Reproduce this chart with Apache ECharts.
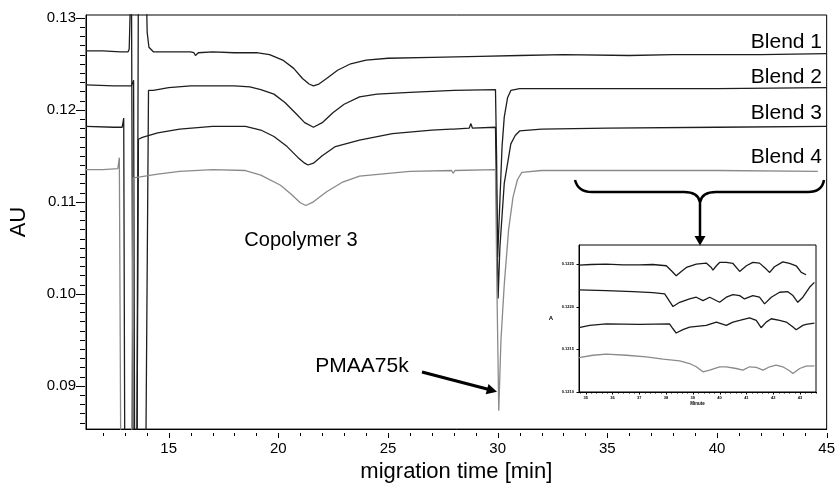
<!DOCTYPE html>
<html>
<head>
<meta charset="utf-8">
<script src="https://cdn.jsdelivr.net/npm/echarts@6/dist/echarts.min.js"></script>
<style>
html,body{margin:0;padding:0;background:#fff;}
#chart{width:838px;height:488px;}
</style>
</head>
<body>
<div id="chart"></div>
<script>
// ---- main chart data: [migration time (min), AU] ----
const blend1 = [
  [11.23,0.1264],[12.0,0.1264],[12.8,0.1263],[13.15,0.1263],[13.2,0.1266],[13.3,0.136],[13.38,0.080],[13.55,0.080],[13.62,0.136],[13.95,0.136],[14.02,0.1284],[14.1,0.1268],[14.3,0.1263],[15.0,0.1263],[16.0,0.1263],[16.15,0.1262],[16.22,0.1259],[16.35,0.1262],[17.0,0.1263],[18.0,0.1262],[19.0,0.1262],[19.6,0.1260],[20.2,0.1254],[20.7,0.1245],[21.1,0.1234],[21.4,0.1228],[21.6,0.1226],[21.85,0.1228],[22.2,0.1234],[22.7,0.1243],[23.3,0.1250],[24.0,0.1254],[25.0,0.1256],[27.0,0.1257],[29.2,0.1258],[31.0,0.1259],[33.0,0.1260],[36.0,0.1259],[38.0,0.1260],[40.0,0.1260],[42.0,0.1260],[45.0,0.1261]
];
const blend2 = [
  [11.23,0.1227],[12.5,0.1226],[13.3,0.1226],[13.4,0.1232],[13.45,0.080],[13.95,0.080],[14.08,0.1221],[14.3,0.1221],[15.0,0.1224],[16.0,0.1226],[17.0,0.1226],[18.0,0.1226],[18.7,0.1225],[19.2,0.1222],[19.8,0.1217],[20.3,0.1208],[20.8,0.1196],[21.2,0.1186],[21.6,0.1181],[22.0,0.1186],[22.5,0.1197],[23.0,0.1206],[23.7,0.1214],[24.5,0.1217],[26.0,0.1219],[28.0,0.1221],[29.9,0.1222],[29.95,0.1150],[30.0,0.1040],[30.1,0.1100],[30.2,0.1160],[30.3,0.1192],[30.45,0.1213],[30.6,0.1221],[31.0,0.1223],[35.0,0.1223],[40.0,0.1223],[45.0,0.1224]
];
const blend3 = [
  [11.23,0.1182],[12.5,0.1181],[12.88,0.1181],[12.95,0.1191],[13.0,0.080],[13.55,0.080],[13.62,0.1168],[13.8,0.1170],[14.5,0.1175],[15.5,0.1179],[17.0,0.1182],[18.5,0.1182],[19.2,0.1178],[19.8,0.1171],[20.4,0.1160],[20.9,0.1148],[21.2,0.1142],[21.35,0.1140],[21.6,0.1142],[22.0,0.1150],[22.6,0.1160],[23.7,0.1167],[25.2,0.1174],[27.0,0.1178],[27.85,0.1179],[27.92,0.1177],[28.0,0.1179],[28.7,0.1180],[28.78,0.1185],[28.85,0.1180],[29.9,0.1181],[29.95,0.1100],[30.02,0.0995],[30.1,0.1050],[30.3,0.1120],[30.6,0.1163],[30.8,0.1172],[31.0,0.1177],[32.0,0.1179],[35.0,0.1180],[40.0,0.1181],[45.0,0.1182]
];
const blend4 = [
  [11.23,0.1135],[12.0,0.1135],[12.68,0.1136],[12.75,0.1148],[12.82,0.080],[13.3,0.080],[13.38,0.1126],[13.7,0.1127],[14.5,0.1130],[15.5,0.1133],[17.0,0.1135],[18.5,0.1134],[19.2,0.1129],[20.1,0.1118],[20.6,0.1108],[21.0,0.1099],[21.25,0.1096],[21.6,0.1100],[22.2,0.1111],[22.9,0.1121],[23.7,0.1128],[26.0,0.1133],[27.9,0.1134],[27.97,0.1131],[28.05,0.1134],[29.9,0.1135],[29.97,0.1000],[30.05,0.0873],[30.15,0.0950],[30.3,0.1010],[30.5,0.1070],[30.7,0.1105],[30.9,0.1124],[31.1,0.1132],[32.0,0.1134],[35.0,0.1134],[40.0,0.1134],[44.6,0.1133]
];
// ---- inset data: [minute, A] ----
const inset1 = [
  [34.75,0.122485],[35.2,0.122492],[35.77,0.122496],[36.4,0.122488],[37.01,0.122488],[37.5,0.122492],[38.01,0.122477],[38.20,0.122419],[38.38,0.122360],[38.57,0.122411],[38.76,0.122457],[39.13,0.122496],[39.50,0.122508],[39.69,0.122457],[39.75,0.122426],[39.88,0.122477],[40.0,0.122516],[40.25,0.122516],[40.50,0.122504],[40.75,0.122411],[41.0,0.122477],[41.24,0.122516],[41.49,0.122508],[41.74,0.122438],[41.87,0.122399],[42.05,0.122465],[42.36,0.122523],[42.61,0.122504],[42.86,0.122477],[43.05,0.122399],[43.23,0.122372]
];
const inset2 = [
  [34.75,0.122194],[35.77,0.122186],[36.77,0.122174],[37.51,0.122163],[37.95,0.122147],[38.26,0.122000],[38.51,0.122050],[38.88,0.122089],[39.13,0.122109],[39.38,0.122070],[39.63,0.122109],[40.0,0.122050],[40.25,0.122109],[40.50,0.122140],[40.75,0.122128],[40.93,0.122089],[41.24,0.122128],[41.49,0.122109],[41.68,0.122031],[41.93,0.122109],[42.24,0.122167],[42.55,0.122174],[42.74,0.122128],[42.92,0.122050],[43.11,0.122109],[43.36,0.122225],[43.54,0.122283]
];
const inset3 = [
  [34.75,0.121752],[35.15,0.121779],[35.77,0.121798],[37.01,0.121791],[38.13,0.121798],[38.26,0.121740],[38.38,0.121690],[38.63,0.121729],[38.88,0.121760],[39.50,0.121779],[39.88,0.121818],[40.25,0.121779],[40.50,0.121818],[40.75,0.121837],[41.12,0.121868],[41.37,0.121837],[41.55,0.121752],[41.74,0.121818],[41.93,0.121857],[42.24,0.121837],[42.49,0.121818],[42.74,0.121760],[42.86,0.121729],[43.11,0.121779],[43.23,0.121791],[43.54,0.121806]
];
const inset4 = [
  [34.75,0.121403],[35.27,0.121430],[35.77,0.121442],[36.52,0.121430],[37.26,0.121411],[37.89,0.121384],[38.51,0.121364],[38.88,0.121333],[39.13,0.121295],[39.38,0.121236],[39.63,0.121256],[40.0,0.121295],[40.25,0.121295],[40.62,0.121275],[40.87,0.121256],[41.12,0.121295],[41.37,0.121287],[41.62,0.121256],[41.87,0.121295],[42.11,0.121314],[42.36,0.121295],[42.61,0.121248],[42.74,0.121217],[42.99,0.121275],[43.23,0.121302],[43.54,0.121306]
];
// ---- tick labels ----
const xTicks = [15, 20, 25, 30, 35, 40, 45];
const yTicks = [0.09, 0.10, 0.11, 0.12, 0.13];
const insetXTicks = [35, 36, 37, 38, 39, 40, 41, 42, 43];
const insetYTicks = [0.1210, 0.1215, 0.1220, 0.1225];

// axis ranges
const X_MIN = 11.23, X_MAX = 45, Y_MIN = 0.0853, Y_MAX = 0.1303;
const IX_MIN = 34.75, IX_MAX = 43.6, IY_MIN = 0.1210, IY_MAX = 0.12272;

const xMinor = [];
for (let v = 12; v <= 44; v++) if (v % 5 !== 0) xMinor.push(v);
const yMinor = [];
for (let k = 86; k <= 130; k++) if (k % 10 !== 0) yMinor.push(k / 1000);
const insetXMinor = [];
for (let k = 174; k <= 218; k++) if (k % 5 !== 0) insetXMinor.push(k / 5);

const FONT = 'Liberation Sans, Arial, sans-serif';
const GRIDS = [
  {left: 85, top: 15, width: 743, height: 418, xMin: X_MIN, xMax: X_MAX, yMin: Y_MIN, yMax: Y_MAX},
  {left: 579, top: 245, width: 237, height: 147, xMin: IX_MIN, xMax: IX_MAX, yMin: IY_MIN, yMax: IY_MAX}
];
const chart = echarts.init(document.getElementById('chart'), null, {renderer: 'canvas'});

function lineSeries(name, data, color, xi, yi, w, z) {
  return {
    name: name, type: 'line', data: data, xAxisIndex: xi, yAxisIndex: yi,
    showSymbol: false, symbol: 'none', silent: true, clip: true,
    lineStyle: {color: color, width: w}, z: z
  };
}

const option = {
  animation: false,
  backgroundColor: '#fff',
  grid: GRIDS.map((g, i) => ({left: g.left, top: g.top, width: g.width, height: g.height, show: true,
    borderColor: '#000', borderWidth: 1, backgroundColor: i ? '#fff' : 'transparent', z: i ? 4 : 0})),
  xAxis: [
    {type: 'value', gridIndex: 0, min: X_MIN, max: X_MAX, position: 'bottom',
     name: 'migration time [min]', nameLocation: 'middle', nameGap: 30,
     nameTextStyle: {fontFamily: FONT, fontSize: 22, color: '#000'},
     axisLine: {onZero: false, lineStyle: {color: '#000', width: 1}},
     axisTick: {show: false},
     axisLabel: {customValues: xTicks, fontFamily: FONT, fontSize: 15, color: '#000', margin: 12},
     splitLine: {show: false}},
    {type: 'value', gridIndex: 1, min: IX_MIN, max: IX_MAX, position: 'bottom',
     name: 'Minute', nameLocation: 'middle', nameGap: 9,
     nameTextStyle: {fontFamily: FONT, fontSize: 4.5, fontWeight: 'bold', color: '#000'},
     axisLine: {onZero: false, lineStyle: {color: '#000', width: 1}},
     axisTick: {show: false},
     axisLabel: {customValues: insetXTicks, fontFamily: FONT, fontSize: 4, fontWeight: 'bold', color: '#000', margin: 4},
     splitLine: {show: false}, z: 5}
  ],
  yAxis: [
    {type: 'value', gridIndex: 0, min: Y_MIN, max: Y_MAX, position: 'left',
     name: 'AU', nameLocation: 'middle', nameGap: 56, nameRotate: 90,
     nameTextStyle: {fontFamily: FONT, fontSize: 22, color: '#000'},
     axisLine: {show: true, onZero: false, lineStyle: {color: '#000', width: 1}},
     axisTick: {show: false},
     axisLabel: {customValues: yTicks, fontFamily: FONT, fontSize: 15, color: '#000', margin: 10,
                 formatter: v => v.toFixed(2)},
     splitLine: {show: false}},
    {type: 'value', gridIndex: 1, min: IY_MIN, max: IY_MAX, position: 'left',
     name: 'A', nameLocation: 'middle', nameGap: 26, nameRotate: 0,
     nameTextStyle: {fontFamily: FONT, fontSize: 6, fontWeight: 'bold', color: '#000'},
     axisLine: {show: true, onZero: false, lineStyle: {color: '#000', width: 1}},
     axisTick: {show: false},
     axisLabel: {customValues: insetYTicks, fontFamily: FONT, fontSize: 4, fontWeight: 'bold', color: '#000', margin: 5,
                 formatter: v => v.toFixed(4)},
     splitLine: {show: false}, z: 5}
  ],
  series: [
    lineSeries('Blend 1', blend1, '#1e1e1e', 0, 0, 1.3, 3),
    lineSeries('Blend 2', blend2, '#1e1e1e', 0, 0, 1.3, 3),
    lineSeries('Blend 3', blend3, '#1e1e1e', 0, 0, 1.3, 3),
    lineSeries('Blend 4', blend4, '#8a8a8a', 0, 0, 1.3, 3),
    lineSeries('Inset 1', inset1, '#1a1a1a', 1, 1, 1.3, 6),
    lineSeries('Inset 2', inset2, '#1a1a1a', 1, 1, 1.3, 6),
    lineSeries('Inset 3', inset3, '#1a1a1a', 1, 1, 1.3, 6),
    lineSeries('Inset 4', inset4, '#8a8a8a', 1, 1, 1.3, 6)
  ]
};
chart.setOption(option);

// annotations
const graphics = [
  {type: 'text', x: 822, y: 42, style: {text: 'Blend 1', font: '21px ' + FONT, fill: '#000', align: 'right', verticalAlign: 'middle'}, z: 10},
  {type: 'text', x: 822, y: 77, style: {text: 'Blend 2', font: '21px ' + FONT, fill: '#000', align: 'right', verticalAlign: 'middle'}, z: 10},
  {type: 'text', x: 822, y: 113, style: {text: 'Blend 3', font: '21px ' + FONT, fill: '#000', align: 'right', verticalAlign: 'middle'}, z: 10},
  {type: 'text', x: 822, y: 157, style: {text: 'Blend 4', font: '21px ' + FONT, fill: '#000', align: 'right', verticalAlign: 'middle'}, z: 10},
  {type: 'text', x: 301, y: 240, style: {text: 'Copolymer 3', font: '20px ' + FONT, fill: '#000', align: 'center', verticalAlign: 'middle'}, z: 10},
  {type: 'text', x: 362, y: 366, style: {text: 'PMAA75k', font: '21px ' + FONT, fill: '#000', align: 'center', verticalAlign: 'middle'}, z: 10},
  {type: 'line', shape: {x1: 422, y1: 372, x2: 489, y2: 389.5}, style: {stroke: '#000', lineWidth: 3}, z: 10},
  {type: 'polygon', shape: {points: [[485.7, 394.2], [488.5, 384.0], [497, 391.7]]}, style: {fill: '#000'}, z: 10},
  {type: 'bezierCurve', shape: {x1: 575, y1: 180, cpx1: 578, cpy1: 192, x2: 592, y2: 192}, style: {stroke: '#000', lineWidth: 2.5, fill: null}, z: 10},
  {type: 'line', shape: {x1: 592, y1: 192, x2: 684, y2: 192}, style: {stroke: '#000', lineWidth: 2.5}, z: 10},
  {type: 'bezierCurve', shape: {x1: 684, y1: 192, cpx1: 698, cpy1: 192, x2: 700, y2: 202}, style: {stroke: '#000', lineWidth: 2.5, fill: null}, z: 10},
  {type: 'bezierCurve', shape: {x1: 700, y1: 202, cpx1: 702, cpy1: 192, x2: 716, y2: 192}, style: {stroke: '#000', lineWidth: 2.5, fill: null}, z: 10},
  {type: 'line', shape: {x1: 716, y1: 192, x2: 808, y2: 192}, style: {stroke: '#000', lineWidth: 2.5}, z: 10},
  {type: 'bezierCurve', shape: {x1: 808, y1: 192, cpx1: 822, cpy1: 192, x2: 824, y2: 180}, style: {stroke: '#000', lineWidth: 2.5, fill: null}, z: 10},
  {type: 'line', shape: {x1: 700, y1: 200, x2: 700, y2: 238}, style: {stroke: '#000', lineWidth: 2.5}, z: 10},
  {type: 'polygon', shape: {points: [[694.5, 236], [705.5, 236], [700, 245.5]]}, style: {fill: '#000'}, z: 10}
];

// outward axis ticks: pixel position from the chart's axis scale, falling back to the grid's linear mapping
function axisPx(dim, gi, v) {
  let r;
  try {
    const f = dim === 'x' ? {xAxisIndex: gi} : {yAxisIndex: gi};
    r = chart.convertToPixel(f, v);
    if (Array.isArray(r)) r = r[dim === 'x' ? 0 : 1];
  } catch (e) { r = undefined; }
  if (typeof r === 'number' && isFinite(r)) return r;
  const g = GRIDS[gi];
  return dim === 'x'
    ? g.left + (v - g.xMin) / (g.xMax - g.xMin) * g.width
    : g.top + g.height - (v - g.yMin) / (g.yMax - g.yMin) * g.height;
}
function addTicks(values, dim, gi, len) {
  const g = GRIDS[gi];
  values.forEach(function (v) {
    const m = Math.round(axisPx(dim, gi, v)) + 0.5;
    const shape = dim === 'x'
      ? {x1: m, y1: g.top + g.height, x2: m, y2: g.top + g.height + len}
      : {x1: g.left - len, y1: m, x2: g.left, y2: m};
    graphics.push({type: 'line', silent: true, shape: shape, style: {stroke: '#000', lineWidth: 1}, z: 20});
  });
}
addTicks(xTicks, 'x', 0, 5);
addTicks(xMinor, 'x', 0, 3);
addTicks(yTicks, 'y', 0, 9);
addTicks(yMinor, 'y', 0, 5);
addTicks(insetXTicks, 'x', 1, 2.5);
addTicks(insetXMinor, 'x', 1, 1.5);
addTicks(insetYTicks, 'y', 1, 2.5);

chart.setOption({graphic: {elements: graphics}});
</script>
</body>
</html>
